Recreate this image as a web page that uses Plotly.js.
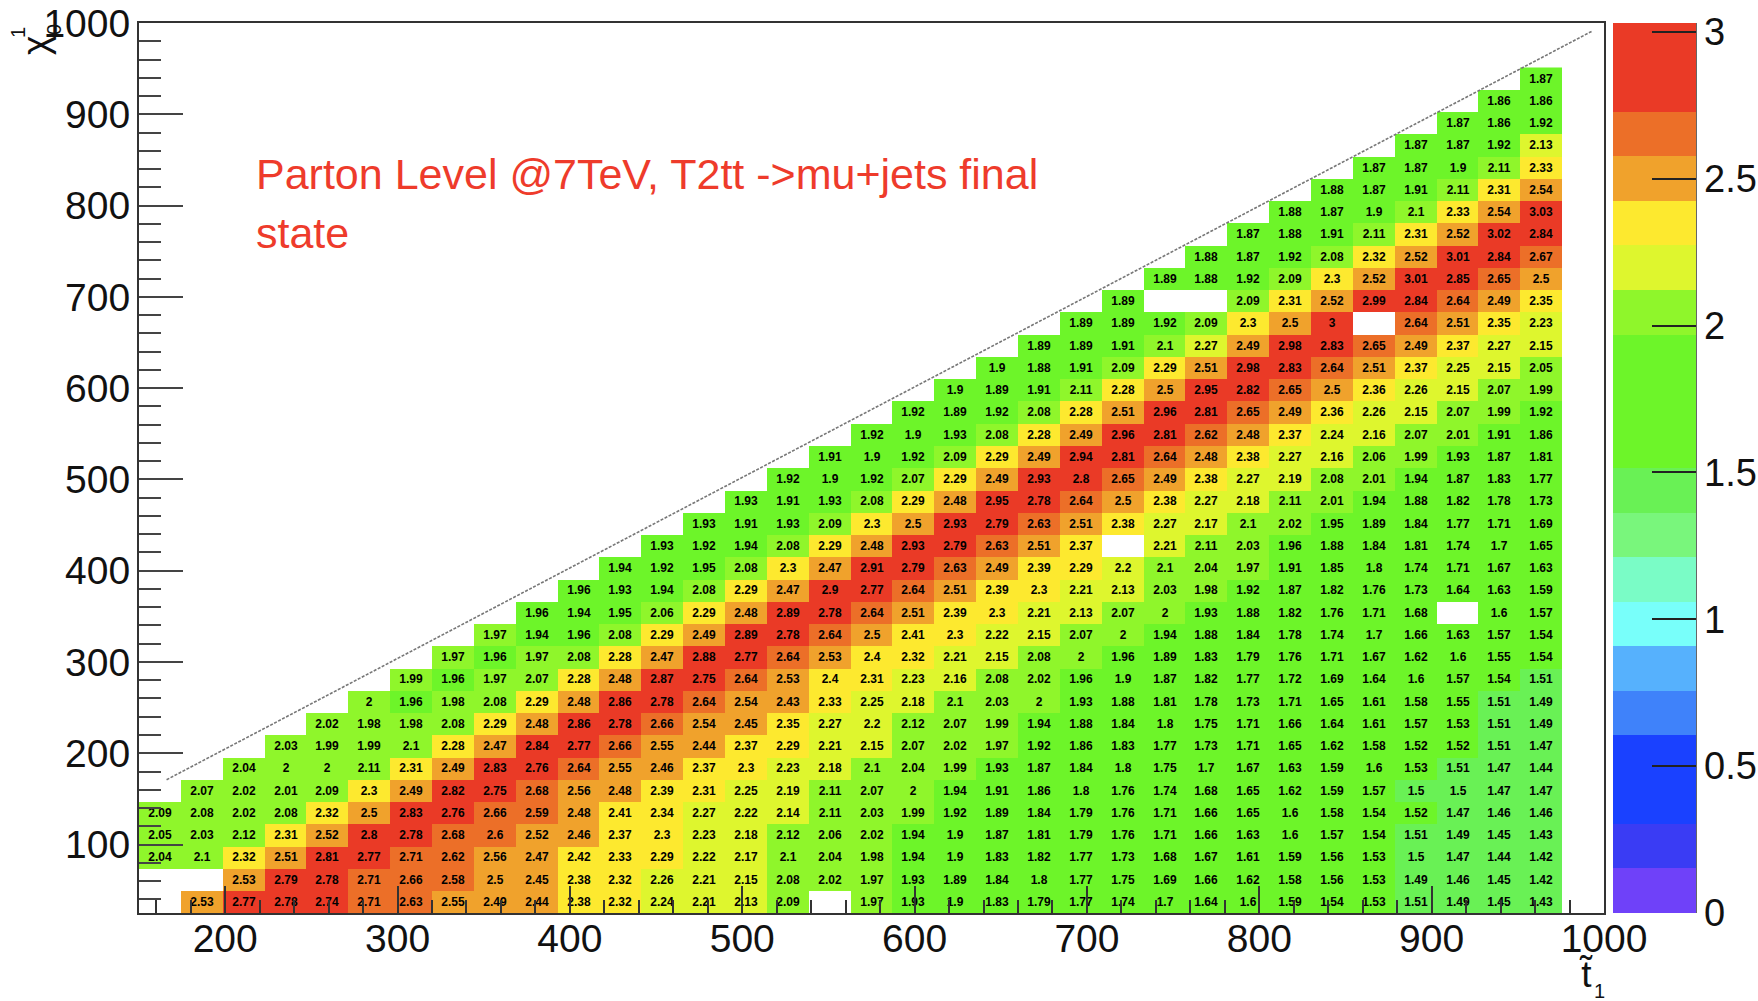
<!DOCTYPE html>
<html>
<head>
<meta charset="utf-8">
<script src="https://cdn.plot.ly/plotly-3.0.1.min.js"></script>
<style>html,body{margin:0;padding:0;background:#fff;overflow:hidden}</style>
</head>
<body>
<div id="chart" style="width:1758px;height:1001px"></div>
<script>
// Cell values, each row is listed bottom to top and ends at the last filled column
var row00=[null,2.53,2.77,2.78,2.74,2.71,2.63,2.55,2.49,2.44,2.38,2.32,2.24,2.21,2.13,2.09,null,1.97,1.93,1.9,1.83,1.79,1.77,1.74,1.7,1.64,1.6,1.59,1.54,1.53,1.51,1.49,1.45,1.43];
var row01=[null,null,2.53,2.79,2.78,2.71,2.66,2.58,2.5,2.45,2.38,2.32,2.26,2.21,2.15,2.08,2.02,1.97,1.93,1.89,1.84,1.8,1.77,1.75,1.69,1.66,1.62,1.58,1.56,1.53,1.49,1.46,1.45,1.42];
var row02=[2.04,2.1,2.32,2.51,2.81,2.77,2.71,2.62,2.56,2.47,2.42,2.33,2.29,2.22,2.17,2.1,2.04,1.98,1.94,1.9,1.83,1.82,1.77,1.73,1.68,1.67,1.61,1.59,1.56,1.53,1.5,1.47,1.44,1.42];
var row03=[2.05,2.03,2.12,2.31,2.52,2.8,2.78,2.68,2.6,2.52,2.46,2.37,2.3,2.23,2.18,2.12,2.06,2.02,1.94,1.9,1.87,1.81,1.79,1.76,1.71,1.66,1.63,1.6,1.57,1.54,1.51,1.49,1.45,1.43];
var row04=[2.09,2.08,2.02,2.08,2.32,2.5,2.83,2.76,2.66,2.59,2.48,2.41,2.34,2.27,2.22,2.14,2.11,2.03,1.99,1.92,1.89,1.84,1.79,1.76,1.71,1.66,1.65,1.6,1.58,1.54,1.52,1.47,1.46,1.46];
var row05=[2.07,2.02,2.01,2.09,2.3,2.49,2.82,2.75,2.68,2.56,2.48,2.39,2.31,2.25,2.19,2.11,2.07,2,1.94,1.91,1.86,1.8,1.76,1.74,1.68,1.65,1.62,1.59,1.57,1.5,1.5,1.47,1.47];
var row06=[2.04,2,2,2.11,2.31,2.49,2.83,2.76,2.64,2.55,2.46,2.37,2.3,2.23,2.18,2.1,2.04,1.99,1.93,1.87,1.84,1.8,1.75,1.7,1.67,1.63,1.59,1.6,1.53,1.51,1.47,1.44];
var row07=[2.03,1.99,1.99,2.1,2.28,2.47,2.84,2.77,2.66,2.55,2.44,2.37,2.29,2.21,2.15,2.07,2.02,1.97,1.92,1.86,1.83,1.77,1.73,1.71,1.65,1.62,1.58,1.52,1.52,1.51,1.47];
var row08=[2.02,1.98,1.98,2.08,2.29,2.48,2.86,2.78,2.66,2.54,2.45,2.35,2.27,2.2,2.12,2.07,1.99,1.94,1.88,1.84,1.8,1.75,1.71,1.66,1.64,1.61,1.57,1.53,1.51,1.49];
var row09=[2,1.96,1.98,2.08,2.29,2.48,2.86,2.78,2.64,2.54,2.43,2.33,2.25,2.18,2.1,2.03,2,1.93,1.88,1.81,1.78,1.73,1.71,1.65,1.61,1.58,1.55,1.51,1.49];
var row10=[1.99,1.96,1.97,2.07,2.28,2.48,2.87,2.75,2.64,2.53,2.4,2.31,2.23,2.16,2.08,2.02,1.96,1.9,1.87,1.82,1.77,1.72,1.69,1.64,1.6,1.57,1.54,1.51];
var row11=[1.97,1.96,1.97,2.08,2.28,2.47,2.88,2.77,2.64,2.53,2.4,2.32,2.21,2.15,2.08,2,1.96,1.89,1.83,1.79,1.76,1.71,1.67,1.62,1.6,1.55,1.54];
var row12=[1.97,1.94,1.96,2.08,2.29,2.49,2.89,2.78,2.64,2.5,2.41,2.3,2.22,2.15,2.07,2,1.94,1.88,1.84,1.78,1.74,1.7,1.66,1.63,1.57,1.54];
var row13=[1.96,1.94,1.95,2.06,2.29,2.48,2.89,2.78,2.64,2.51,2.39,2.3,2.21,2.13,2.07,2,1.93,1.88,1.82,1.76,1.71,1.68,null,1.6,1.57];
var row14=[1.96,1.93,1.94,2.08,2.29,2.47,2.9,2.77,2.64,2.51,2.39,2.3,2.21,2.13,2.03,1.98,1.92,1.87,1.82,1.76,1.73,1.64,1.63,1.59];
var row15=[1.94,1.92,1.95,2.08,2.3,2.47,2.91,2.79,2.63,2.49,2.39,2.29,2.2,2.1,2.04,1.97,1.91,1.85,1.8,1.74,1.71,1.67,1.63];
var row16=[1.93,1.92,1.94,2.08,2.29,2.48,2.93,2.79,2.63,2.51,2.37,null,2.21,2.11,2.03,1.96,1.88,1.84,1.81,1.74,1.7,1.65];
var row17=[1.93,1.91,1.93,2.09,2.3,2.5,2.93,2.79,2.63,2.51,2.38,2.27,2.17,2.1,2.02,1.95,1.89,1.84,1.77,1.71,1.69];
var row18=[1.93,1.91,1.93,2.08,2.29,2.48,2.95,2.78,2.64,2.5,2.38,2.27,2.18,2.11,2.01,1.94,1.88,1.82,1.78,1.73];
var row19=[1.92,1.9,1.92,2.07,2.29,2.49,2.93,2.8,2.65,2.49,2.38,2.27,2.19,2.08,2.01,1.94,1.87,1.83,1.77];
var row20=[1.91,1.9,1.92,2.09,2.29,2.49,2.94,2.81,2.64,2.48,2.38,2.27,2.16,2.06,1.99,1.93,1.87,1.81];
var row21=[1.92,1.9,1.93,2.08,2.28,2.49,2.96,2.81,2.62,2.48,2.37,2.24,2.16,2.07,2.01,1.91,1.86];
var row22=[1.92,1.89,1.92,2.08,2.28,2.51,2.96,2.81,2.65,2.49,2.36,2.26,2.15,2.07,1.99,1.92];
var row23=[1.9,1.89,1.91,2.11,2.28,2.5,2.95,2.82,2.65,2.5,2.36,2.26,2.15,2.07,1.99];
var row24=[1.9,1.88,1.91,2.09,2.29,2.51,2.98,2.83,2.64,2.51,2.37,2.25,2.15,2.05];
var row25=[1.89,1.89,1.91,2.1,2.27,2.49,2.98,2.83,2.65,2.49,2.37,2.27,2.15];
var row26=[1.89,1.89,1.92,2.09,2.3,2.5,3,null,2.64,2.51,2.35,2.23];
var row27=[1.89,null,null,2.09,2.31,2.52,2.99,2.84,2.64,2.49,2.35];
var row28=[1.89,1.88,1.92,2.09,2.3,2.52,3.01,2.85,2.65,2.5];
var row29=[1.88,1.87,1.92,2.08,2.32,2.52,3.01,2.84,2.67];
var row30=[1.87,1.88,1.91,2.11,2.31,2.52,3.02,2.84];
var row31=[1.88,1.87,1.9,2.1,2.33,2.54,3.03];
var row32=[1.88,1.87,1.91,2.11,2.31,2.54];
var row33=[1.87,1.87,1.9,2.11,2.33];
var row34=[1.87,1.87,1.92,2.13];
var row35=[1.87,1.86,1.92];
var row36=[1.86,1.86];
var row37=[1.87];

var allRows=[row00,row01,row02,row03,row04,row05,row06,row07,row08,row09,row10,row11,row12,row13,row14,row15,row16,row17,row18,row19,row20,row21,row22,row23,row24,row25,row26,row27,row28,row29,row30,row31,row32,row33,row34,row35,row36,row37];

// Colour bands, bottom to top
var bandColors=['#6f41f9','#3a3cf4','#1a41ff','#1a41ff','#3f82fa','#56b1fd','#78fffa','#7afcc6','#79f67c','#69f155','#6df529','#6df529','#6df529','#8ff62b','#def62e','#fde92f','#f0a22c','#ec6f28','#ea3a26','#ea3a26'];
var zTop=3.03;
var xTicks=[200,300,400,500,600,700,800,900,1000];
var yTicks=[100,200,300,400,500,600,700,800,900,1000];
var cbTicks=[0,0.5,1,1.5,2,2.5,3];
var diagX=[166,993];
var diagY=[171,991];
var noteLine1='Parton Level @7TeV, T2tt ->mu+jets final';
var noteLine2='state';

var grid=allRows.map(function(r){
  var out=[],pad=34-r.length,i;
  for(i=0;i<pad;i++)out.push(null);
  out=out.concat(r);
  out.push(null);
  return out;
});
var scale=[];
bandColors.forEach(function(c,i){
  scale.push([i/bandColors.length,c]);
  scale.push([(i+1)/bandColors.length,c]);
});
var L=139,R=1604,T=23,B=913;
function px(x){return (x-L)/(R-L);}
function py(y){return (B-y)/(B-T);}
var axisFont={family:'"Liberation Sans",Arial,sans-serif',size:39,color:'#111'};
var cbFont={family:'"Liberation Sans",Arial,sans-serif',size:38,color:'#111'};
var noteFont={family:'"Liberation Sans",sans-serif',size:43,color:'#ee3b2b'};

var traces=[{
  type:'heatmap',z:grid,
  x0:150+850/35/2,dx:850/35,y0:25+975/40/2,dy:975/40,
  colorscale:scale,zmin:0,zmax:zTop,zsmooth:false,hoverongaps:false,
  texttemplate:'%{z}',
  textfont:{family:'"Liberation Sans",Arial,sans-serif',size:12,color:'#000',weight:700},
  colorbar:{
    xref:'paper',yref:'paper',x:px(1613),xanchor:'left',xpad:0,ypad:0,y:0.5,yanchor:'middle',
    len:1,lenmode:'fraction',thickness:83,thicknessmode:'pixels',
    outlinewidth:0,borderwidth:0,
    ticks:'inside',ticklen:44,tickwidth:1.5,tickcolor:'#222',
    tickmode:'array',tickvals:cbTicks,ticktext:['0','0.5','1','1.5','2','2.5','3'],
    tickfont:cbFont
  }
},{
  type:'scatter',mode:'lines',x:diagX,y:diagY,showlegend:false,hoverinfo:'skip',
  line:{color:'#777',width:1.6,dash:'3px,1.5px'}
}];

var layout={
  width:1758,height:1001,
  margin:{l:L,r:1758-R,t:T,b:1001-B,pad:0,autoexpand:false},
  paper_bgcolor:'#fff',plot_bgcolor:'#fff',showlegend:false,
  xaxis:{range:[150,1000],tickmode:'array',tickvals:xTicks,ticks:'inside',ticklen:27,tickwidth:1.5,tickcolor:'#333',
    minor:{dtick:20,tick0:0,ticks:'inside',ticklen:13,tickwidth:1.5,tickcolor:'#333',showgrid:false},
    showgrid:false,zeroline:false,showline:true,mirror:true,linecolor:'#333',linewidth:2,tickfont:axisFont,ticklabelstandoff:-10},
  yaxis:{range:[25,1000],tickmode:'array',tickvals:yTicks,ticks:'inside',ticklen:44,tickwidth:1.5,tickcolor:'#444',
    minor:{dtick:20,tick0:0,ticks:'inside',ticklen:22,tickwidth:1.5,tickcolor:'#444',showgrid:false},
    showgrid:false,zeroline:false,showline:true,mirror:true,linecolor:'#333',linewidth:2,tickfont:axisFont,ticklabelstandoff:-1},
  shapes:[{type:'line',xref:'paper',yref:'paper',x0:px(1696),x1:px(1696),y0:0,y1:1,line:{color:'#333',width:1.5}}],
  annotations:[
    {xref:'paper',yref:'paper',x:px(254),y:py(174),xanchor:'left',yanchor:'middle',align:'left',showarrow:false,
     text:noteLine1,font:noteFont},
    {xref:'paper',yref:'paper',x:px(254),y:py(233),xanchor:'left',yanchor:'middle',align:'left',showarrow:false,
     text:noteLine2,font:noteFont},
    {xref:'paper',yref:'paper',x:px(36),y:py(46),xanchor:'center',yanchor:'middle',showarrow:false,textangle:-90,
     text:'χ',font:{family:'"Liberation Sans",Arial,sans-serif',size:37,color:'#111'}},
    {xref:'paper',yref:'paper',x:px(18),y:py(33),xanchor:'center',yanchor:'middle',showarrow:false,textangle:-90,
     text:'1',font:{family:'"Liberation Sans",Arial,sans-serif',size:20,color:'#111'}},
    {xref:'paper',yref:'paper',x:px(54),y:py(30),xanchor:'center',yanchor:'middle',showarrow:false,textangle:-90,
     text:'0',font:{family:'"Liberation Sans",Arial,sans-serif',size:20,color:'#111'}},
    {xref:'paper',yref:'paper',x:px(1586),y:py(974),xanchor:'center',yanchor:'middle',showarrow:false,
     text:'t\u0303',font:{family:'"Liberation Sans",Arial,sans-serif',size:37,color:'#111'}},
    {xref:'paper',yref:'paper',x:px(1599),y:py(991),xanchor:'center',yanchor:'middle',showarrow:false,
     text:'1',font:{family:'"Liberation Sans",Arial,sans-serif',size:20,color:'#111'}}
  ]
};
Plotly.newPlot('chart',traces,layout,{displayModeBar:false,responsive:false});
</script>
</body>
</html>
